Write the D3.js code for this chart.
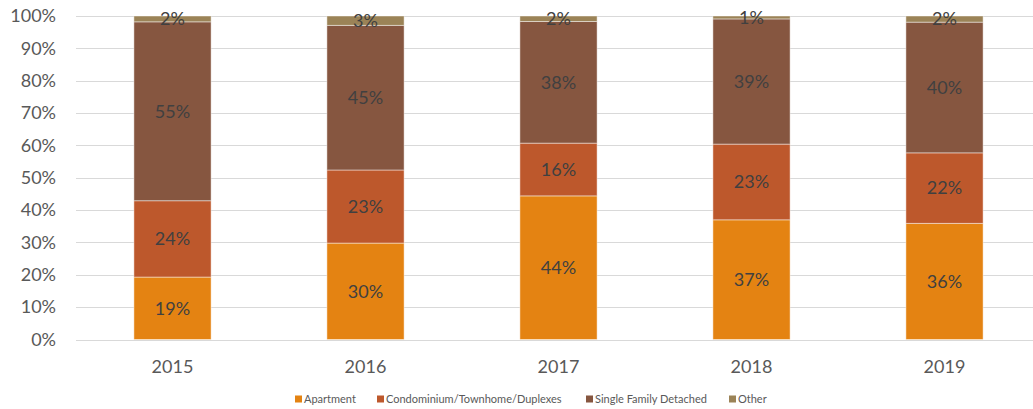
<!DOCTYPE html>
<html>
  <head>
    <meta charset="utf-8">
    <title>Housing type share</title>
    <style>
      body { margin: 0; background: white; }
      text { font-family: Lato, "Open Sans", sans-serif; }
      .grid line { stroke: #d9d9d9; stroke-width: 1; }
      .axis text { fill: #595959; font-size: 18px; }
      .label { fill: #404040; font-size: 18px; }
      .legend text { fill: #595959; font-size: 11px; }
      rect.seg { stroke: #ffffff; stroke-opacity: 0.45; stroke-width: 1; }
    </style>
    <script src="https://d3js.org/d3.v7.min.js"></script>
  </head>
  <body>
    <script>
      const years = ["2015", "2016", "2017", "2018", "2019"];
      const seriesNames = ["Apartment", "Condominium/Townhome/Duplexes", "Single Family Detached", "Other"];
      const apartment = [19.3, 29.8, 44.4, 37.0, 35.9];
      const condo = [23.6, 22.6, 16.3, 23.4, 21.8];
      const singleFamily = [55.3, 44.7, 37.6, 38.7, 40.4];
      const other = [1.8, 2.9, 1.7, 0.9, 1.9];
      const yTicks = [0, 10, 20, 30, 40, 50, 60, 70, 80, 90, 100];
      const colors = ["#e48312", "#bd582c", "#865640", "#9b8357"];

      const width = 1033, height = 409;
      const plot = { left: 76, right: 1041, top: 16, bottom: 339.5 };

      const svg = d3.select("body").append("svg")
        .attr("width", width)
        .attr("height", height);

      const x = d3.scaleBand().domain(years).range([plot.left, plot.right]).paddingInner(0.6).paddingOuter(0.3);
      const y = d3.scaleLinear().domain([0, 100]).range([plot.bottom, plot.top]);

      // gridlines
      svg.append("g").attr("class", "grid")
        .selectAll("line")
        .data(yTicks)
        .enter().append("line")
          .attr("x1", plot.left).attr("x2", width)
          .attr("y1", d => Math.round(y(d)) + 0.5)
          .attr("y2", d => Math.round(y(d)) + 0.5);

      // y tick labels
      svg.append("g").attr("class", "axis")
        .selectAll("text")
        .data(yTicks)
        .enter().append("text")
          .attr("x", 56)
          .attr("y", d => y(d))
          .attr("dy", "0.35em")
          .attr("text-anchor", "end")
          .text(d => d + "%");

      // x labels
      svg.append("g").attr("class", "axis")
        .selectAll("text")
        .data(years)
        .enter().append("text")
          .attr("x", d => x(d) + x.bandwidth() / 2)
          .attr("y", 367)
          .attr("dy", "0.35em")
          .attr("text-anchor", "middle")
          .text(d => d);

      const table = years.map((yr, i) => ({
        year: yr,
        "Apartment": apartment[i],
        "Condominium/Townhome/Duplexes": condo[i],
        "Single Family Detached": singleFamily[i],
        "Other": other[i]
      }));

      const stacked = d3.stack().keys(seriesNames)(table);

      const layers = svg.append("g")
        .selectAll("g")
        .data(stacked)
        .enter().append("g")
          .attr("fill", (d, i) => colors[i]);

      layers.selectAll("rect")
        .data(d => d)
        .enter().append("rect")
          .attr("class", "seg")
          .attr("x", d => x(d.data.year))
          .attr("width", x.bandwidth())
          .attr("y", d => y(d[1]))
          .attr("height", d => y(d[0]) - y(d[1]));

      // data labels
      const labels = svg.append("g");
      stacked.forEach(layer => {
        labels.selectAll(null)
          .data(layer)
          .enter().append("text")
            .attr("class", "label")
            .attr("x", d => x(d.data.year) + x.bandwidth() / 2)
            .attr("y", d => y((d[0] + d[1]) / 2))
            .attr("dy", "0.35em")
            .attr("text-anchor", "middle")
            .text(d => Math.round(d[1] - d[0]) + "%");
      });

      // legend
      const legendX = [295, 377, 586, 729];
      const legend = svg.append("g").attr("class", "legend")
        .selectAll("g")
        .data(seriesNames)
        .enter().append("g")
          .attr("transform", (d, i) => `translate(${legendX[i]}, 399)`);

      legend.append("rect")
        .attr("x", 0).attr("y", -3.5)
        .attr("width", 7).attr("height", 7)
        .attr("fill", (d, i) => colors[i]);

      legend.append("text")
        .attr("x", 9)
        .attr("dy", "0.35em")
        .text(d => d);
    </script>
  </body>
</html>
